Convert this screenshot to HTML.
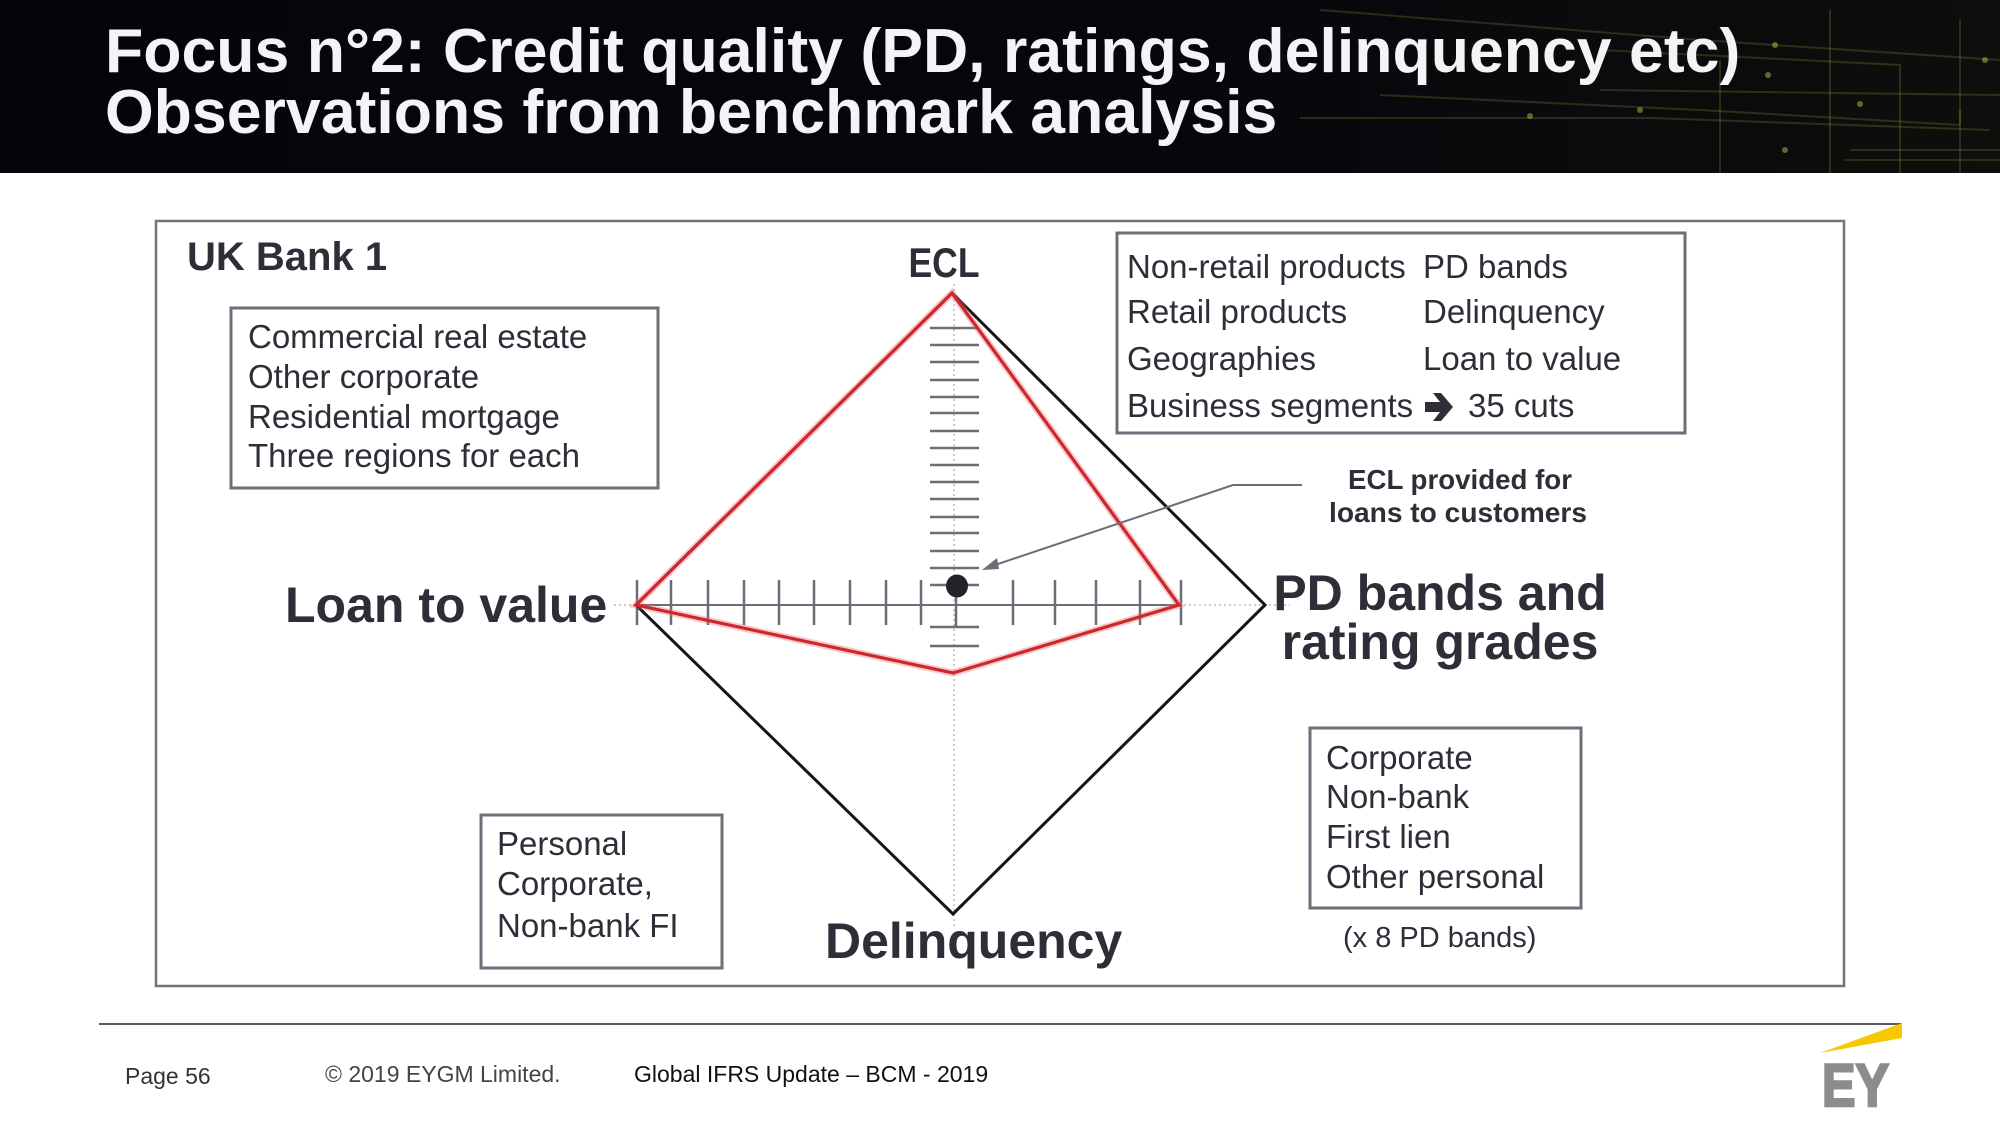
<!DOCTYPE html>
<html>
<head>
<meta charset="utf-8">
<style>
  html,body{margin:0;padding:0;background:#fff;}
  svg{display:block;}
  .t{font-family:"Liberation Sans",Arial,sans-serif;fill:#2e2e38;}
  .b{font-weight:bold;}
</style>
</head>
<body>
<svg width="2000" height="1125" viewBox="0 0 2000 1125" xmlns="http://www.w3.org/2000/svg">
  <defs>
    <linearGradient id="hdr" x1="0" y1="0" x2="1" y2="0">
      <stop offset="0" stop-color="#03050a"/>
      <stop offset="0.6" stop-color="#05070c"/>
      <stop offset="1" stop-color="#0d0f0c"/>
    </linearGradient>
  </defs>
  <!-- header -->
  <rect x="0" y="0" width="2000" height="173" fill="url(#hdr)"/>
  <g stroke="#8a9a3a" stroke-opacity="0.25" stroke-width="2" fill="none">
    <path d="M1320 10 L1700 40 L2000 60"/>
    <path d="M1380 95 L1700 110 L1960 125 L1960 110"/>
    <path d="M1300 118 L1650 118 L1990 130"/>
    <path d="M1600 50 L1900 65 L1900 173"/>
    <path d="M1830 10 L1830 173"/>
    <path d="M1850 150 L2000 150"/>
    <path d="M1845 160 L2000 160"/>
    <path d="M1720 60 L1720 173"/>
    <path d="M1960 20 L1960 173"/>
    <path d="M1600 90 L2000 95"/>
  </g>
  <g fill="#c8d850" fill-opacity="0.45">
    <circle cx="1530" cy="116" r="3"/>
    <circle cx="1775" cy="45" r="3"/>
    <circle cx="1768" cy="75" r="3"/>
    <circle cx="1860" cy="104" r="3"/>
    <circle cx="1640" cy="110" r="3"/>
    <circle cx="1785" cy="150" r="3"/>
    <circle cx="1985" cy="60" r="3"/>
  </g>
  <text x="105" y="72" font-family="Liberation Sans, Arial, sans-serif" font-weight="bold" font-size="62.6" fill="#f4f4f6">Focus n°2: Credit quality (PD, ratings, delinquency etc)</text>
  <text x="105" y="133" font-family="Liberation Sans, Arial, sans-serif" font-weight="bold" font-size="62.6" fill="#f4f4f6">Observations from benchmark analysis</text>

  <!-- main frame -->
  <rect x="156" y="221" width="1688" height="765" fill="none" stroke="#74747e" stroke-width="2.5"/>

  <text class="t b" x="187" y="270" font-size="40">UK Bank 1</text>

  <!-- box 1 -->
  <rect x="231" y="308" width="427" height="180" fill="none" stroke="#6e6e78" stroke-width="3"/>
  <text class="t" x="248" y="348" font-size="33">Commercial real estate</text>
  <text class="t" x="248" y="388" font-size="33">Other corporate</text>
  <text class="t" x="248" y="428" font-size="33">Residential mortgage</text>
  <text class="t" x="248" y="467" font-size="33">Three regions for each</text>

  <!-- top right box -->
  <rect x="1117" y="233" width="568" height="200" fill="none" stroke="#6e6e78" stroke-width="3"/>
  <text class="t" x="1127" y="278" font-size="33">Non-retail products</text>
  <text class="t" x="1127" y="323" font-size="33">Retail products</text>
  <text class="t" x="1127" y="370" font-size="33">Geographies</text>
  <text class="t" x="1127" y="417" font-size="33">Business segments</text>
  <text class="t" x="1423" y="278" font-size="33">PD bands</text>
  <text class="t" x="1423" y="323" font-size="33">Delinquency</text>
  <text class="t" x="1423" y="370" font-size="33">Loan to value</text>
  <path d="M1425 402 L1440 402 L1433 393 L1441 393 L1453 407 L1441 421 L1433 421 L1440 412 L1425 412 Z" fill="#2e2e38"/>
  <text class="t" x="1468" y="417" font-size="33">35 cuts</text>

  <!-- ECL callout text -->
  <text class="t b" x="1460" y="489" font-size="28" text-anchor="middle" textLength="224" lengthAdjust="spacingAndGlyphs">ECL provided for</text>
  <text class="t b" x="1458" y="522" font-size="28" text-anchor="middle" textLength="258" lengthAdjust="spacingAndGlyphs">loans to customers</text>

  <!-- chart -->
  <g stroke="#b8b8c0" stroke-width="1.5" stroke-dasharray="2,3" fill="none">
    <line x1="954" y1="284" x2="954" y2="928"/>
    <line x1="614" y1="605" x2="1290" y2="605"/>
  </g>
  <!-- horizontal axis solid line -->
  <line x1="636" y1="605" x2="1181" y2="605" stroke="#6d6d78" stroke-width="2"/>
  <!-- vertical ticks on horizontal axis -->
  <g stroke="#6d6d78" stroke-width="2.5">
    <line x1="637" y1="580" x2="637" y2="625"/>
    <line x1="671" y1="580" x2="671" y2="625"/>
    <line x1="708" y1="580" x2="708" y2="625"/>
    <line x1="744" y1="580" x2="744" y2="625"/>
    <line x1="779" y1="580" x2="779" y2="625"/>
    <line x1="814" y1="580" x2="814" y2="625"/>
    <line x1="850" y1="580" x2="850" y2="625"/>
    <line x1="886" y1="580" x2="886" y2="625"/>
    <line x1="921" y1="580" x2="921" y2="625"/>
    <line x1="956" y1="580" x2="956" y2="627"/>
    <line x1="1013" y1="580" x2="1013" y2="625"/>
    <line x1="1055" y1="580" x2="1055" y2="625"/>
    <line x1="1096" y1="580" x2="1096" y2="625"/>
    <line x1="1140" y1="580" x2="1140" y2="625"/>
    <line x1="1181" y1="580" x2="1181" y2="625"/>
  </g>
  <!-- horizontal ticks on vertical axis -->
  <g stroke="#6d6d78" stroke-width="2.5">
    <line x1="930" y1="328" x2="979" y2="328"/>
    <line x1="930" y1="345" x2="979" y2="345"/>
    <line x1="930" y1="362" x2="979" y2="362"/>
    <line x1="930" y1="380" x2="979" y2="380"/>
    <line x1="930" y1="397" x2="979" y2="397"/>
    <line x1="930" y1="413" x2="979" y2="413"/>
    <line x1="930" y1="431" x2="979" y2="431"/>
    <line x1="930" y1="448" x2="979" y2="448"/>
    <line x1="930" y1="465" x2="979" y2="465"/>
    <line x1="930" y1="482" x2="979" y2="482"/>
    <line x1="930" y1="499" x2="979" y2="499"/>
    <line x1="930" y1="517" x2="979" y2="517"/>
    <line x1="930" y1="533" x2="979" y2="533"/>
    <line x1="930" y1="551" x2="979" y2="551"/>
    <line x1="930" y1="568" x2="979" y2="568"/>
    <line x1="930" y1="585" x2="979" y2="585"/>
    <line x1="930" y1="627" x2="979" y2="627"/>
    <line x1="930" y1="646" x2="979" y2="646"/>
  </g>

  <!-- black diamond -->
  <polygon points="952,293 1265,605 953,914 636,605" fill="none" stroke="#151515" stroke-width="3" stroke-linejoin="miter"/>
  <!-- red polygon -->
  <polygon points="952,293 1179,605 953,673 636,605" fill="none" stroke="#e86a6a" stroke-opacity="0.35" stroke-width="7" stroke-linejoin="miter"/>
  <polygon points="952,293 1179,605 953,673 636,605" fill="none" stroke="#d0262e" stroke-width="3.2" stroke-linejoin="miter"/>

  <!-- dot -->
  <ellipse cx="957" cy="586" rx="11" ry="11.5" fill="#222228"/>

  <!-- callout line -->
  <polyline points="1302,485 1233,485 992,566" fill="none" stroke="#6d6d78" stroke-width="2"/>
  <polygon points="982,570 997,558 999,569" fill="#6d6d78"/>

  <!-- axis labels -->
  <text class="t b" x="944" y="277" font-size="42" text-anchor="middle" textLength="71" lengthAdjust="spacingAndGlyphs">ECL</text>
  <text class="t b" x="285" y="622" font-size="50">Loan to value</text>
  <text class="t b" x="1440" y="610" font-size="50" text-anchor="middle">PD bands and</text>
  <text class="t b" x="1440" y="659" font-size="50" text-anchor="middle">rating grades</text>
  <text class="t b" x="825" y="958" font-size="50">Delinquency</text>

  <!-- box 3 -->
  <rect x="481" y="815" width="241" height="153" fill="none" stroke="#6e6e78" stroke-width="3"/>
  <text class="t" x="497" y="855" font-size="33">Personal</text>
  <text class="t" x="497" y="895" font-size="33">Corporate,</text>
  <text class="t" x="497" y="937" font-size="33">Non-bank FI</text>

  <!-- box 4 -->
  <rect x="1310" y="728" width="271" height="180" fill="none" stroke="#6e6e78" stroke-width="3"/>
  <text class="t" x="1326" y="769" font-size="33">Corporate</text>
  <text class="t" x="1326" y="808" font-size="33">Non-bank</text>
  <text class="t" x="1326" y="848" font-size="33">First lien</text>
  <text class="t" x="1326" y="888" font-size="33">Other personal</text>
  <text class="t" x="1343" y="947" font-size="29">(x 8 PD bands)</text>

  <!-- footer -->
  <line x1="99" y1="1024" x2="1902" y2="1024" stroke="#5a5a5a" stroke-width="2"/>
  <polygon points="1820,1053 1902,1023 1902,1038" fill="#f7c800"/>
  <text x="1822" y="1106" font-family="Liberation Sans, Arial, sans-serif" font-weight="bold" font-size="60" fill="#8c8c8c" stroke="#8c8c8c" stroke-width="2.5" textLength="67" lengthAdjust="spacingAndGlyphs">EY</text>
  <text x="125" y="1084" font-family="Liberation Sans, Arial, sans-serif" font-size="23" fill="#333">Page 56</text>
  <text x="325" y="1082" font-family="Liberation Sans, Arial, sans-serif" font-size="23" fill="#444">© 2019 EYGM Limited.</text>
  <text x="634" y="1082" font-family="Liberation Sans, Arial, sans-serif" font-size="23" fill="#111">Global IFRS Update – BCM - 2019</text>
</svg>
</body>
</html>
